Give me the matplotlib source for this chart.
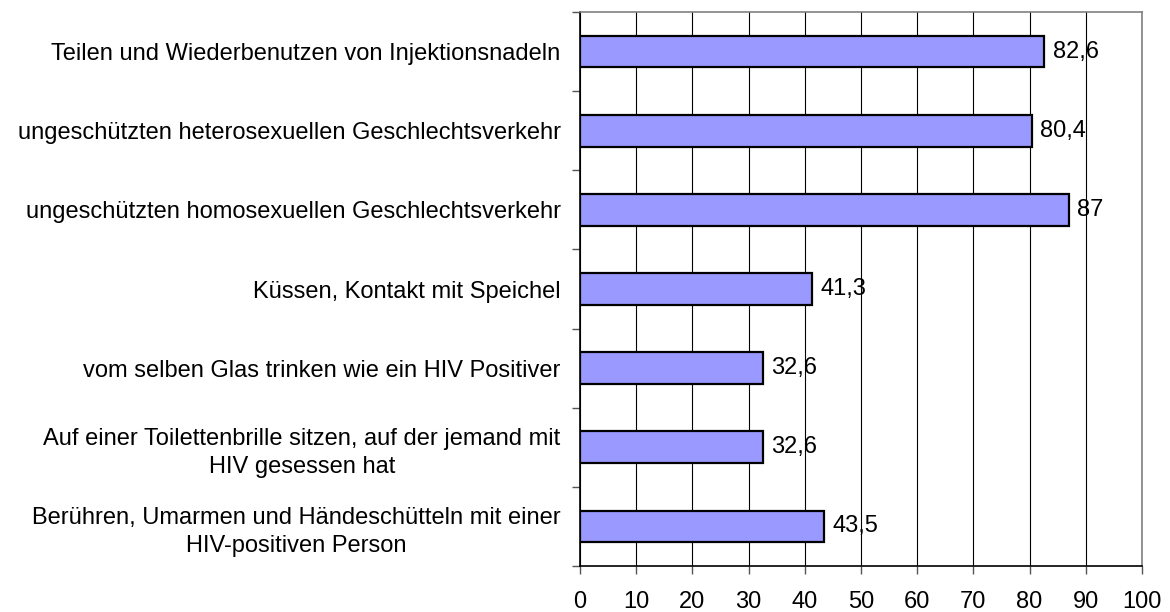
import matplotlib
matplotlib.use("Agg")
import matplotlib.pyplot as plt
import numpy as np

categories = [
    "Teilen und Wiederbenutzen von Injektionsnadeln",
    "ungeschützten heterosexuellen Geschlechtsverkehr",
    "ungeschützten homosexuellen Geschlechtsverkehr",
    "Küssen, Kontakt mit Speichel",
    "vom selben Glas trinken wie ein HIV Positiver",
    "Auf einer Toilettenbrille sitzen, auf der jemand mit\nHIV gesessen hat",
    "Berühren, Umarmen und Händeschütteln mit einer\nHIV-positiven Person",
]
values = [82.6, 80.4, 87, 41.3, 32.6, 32.6, 43.5]
value_labels = ["82,6", "80,4", "87", "41,3", "32,6", "32,6", "43,5"]
x_ticks = list(range(0, 101, 10))

plt.rcParams["font.family"] = ["Liberation Sans", "DejaVu Sans"]
FS = 17

fig = plt.figure(figsize=(11.7, 6.12), dpi=100)
ax = fig.add_axes([580 / 1170, 1 - 566 / 612, (1142 - 580) / 1170, (566 - 12) / 612])

y = np.arange(len(categories))
ax.barh(y, values, height=0.4, color="#9999ff", edgecolor="black",
        linewidth=1.6, zorder=3)

for yi, v, lab in zip(y, values, value_labels):
    ax.annotate(lab, (v, yi), xytext=(6, 0), textcoords="offset points",
                va="center", ha="left", fontsize=FS, zorder=4)

ax.set_xlim(0, 100)
ax.set_ylim(len(categories) - 0.5, -0.5)
ax.set_xticks(x_ticks)
ax.set_xticklabels([str(t) for t in x_ticks], fontsize=FS)
ax.xaxis.grid(True, color="black", linewidth=0.8, zorder=0)

ax.set_yticks(y)
ax.set_yticklabels(categories, fontsize=FS, multialignment="center",
                   linespacing=1.35)
ax.set_yticks(np.arange(-0.5, len(categories), 1.0), minor=True)
ax.tick_params(axis="y", which="major", length=0, pad=14)
ax.tick_params(axis="y", which="minor", length=6, width=1, color="#555555")
ax.tick_params(axis="x", length=6, width=1, color="#555555", pad=12)

for side in ("top", "right"):
    ax.spines[side].set_color("#808080")
    ax.spines[side].set_linewidth(1.2)
for side in ("left", "bottom"):
    ax.spines[side].set_color("black")
    ax.spines[side].set_linewidth(1.2)

fig.savefig("out.png", dpi=100)
